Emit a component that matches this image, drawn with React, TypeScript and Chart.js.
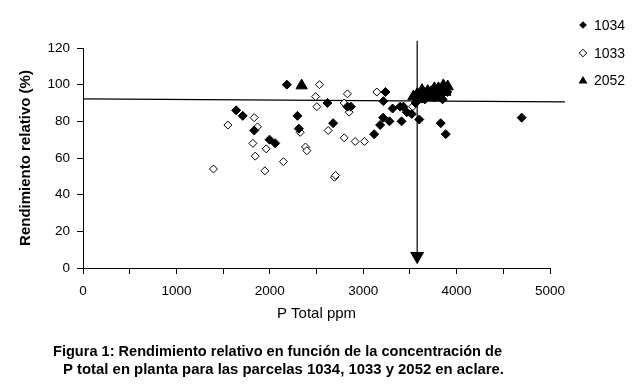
import React, { useEffect, useRef } from "react";
import { Chart, registerables } from "chart.js";

Chart.register(...registerables);

// ---- data ----
const p1034X = [1640, 1710, 1833, 1997, 2058, 2183, 2296, 2311, 2617, 2678, 2831, 2868, 3117, 3181, 3213, 3281, 3216, 3238, 3315, 3395, 3430, 3411, 3467, 3520, 3600, 3830, 3884, 4697, 3560, 3590, 3620, 3660, 3700, 3730, 3760, 3800, 3840, 3870, 3900, 3850];
const p1034Y = [86, 83, 75, 70, 68, 100, 83, 76, 90, 79, 88, 88, 73, 78, 82, 80, 91, 96, 87, 88, 88, 80, 85, 84, 81, 79, 73, 82, 90, 92, 94, 92, 95, 97, 93, 96, 95, 97, 96, 92];

const p1033X = [1397, 1551, 1819, 1833, 1868, 1844, 1947, 1961, 2146, 2325, 2382, 2397, 2491, 2504, 2532, 2625, 2692, 2705, 2796, 2831, 2849, 2796, 2914, 3013, 3146, 3530];
const p1033Y = [54, 78, 68, 82, 77, 61, 53, 65, 58, 74, 66, 64, 93.5, 88, 100, 75, 49.5, 50.5, 90, 95, 85, 71, 69, 69, 96, 88];

const p2052X = [2341, 3537, 3580, 3610, 3630, 3660, 3691, 3720, 3762, 3790, 3805, 3830, 3858, 3880, 3905];
const p2052Y = [99.5, 93.5, 95, 92, 97, 95, 96.5, 93, 98, 95, 98, 93, 99.6, 96, 99];

// reference lines drawn on the figure
const hLineX = [0, 5160];
const hLineY = [92.3, 90.6];
const vLineX = [3578, 3578];
const vLineY = [124, 6.5];

const xTickMarks = [0, 500, 1000, 1500, 2000, 2500, 3000, 3500, 4000, 4500, 5000];
const xTickLabels = [0, 1000, 2000, 3000, 4000, 5000];
const yTickLabels = [0, 20, 40, 60, 80, 100, 120];

const seriesNames = ["1034", "1033", "2052"];
const xTitle = "P Total ppm";
const yTitle = "Rendimiento relativo (%)";
const captionLines = [
  "Figura 1: Rendimiento relativo en función de la concentración de",
  "P total en planta para las parcelas 1034, 1033 y 2052 en aclare.",
];

const FONT = '"Liberation Sans", Arial, sans-serif';

const zip = (xs: number[], ys: number[]) => xs.map((x, i) => ({ x, y: ys[i] }));

const extrasPlugin = {
  id: "extras",
  afterDraw(chart: any) {
    const ctx = chart.ctx as CanvasRenderingContext2D;
    ctx.save();
    // legend
    const legendY = [25, 53, 80];
    const mx = 583;
    ctx.fillStyle = "#000";
    ctx.strokeStyle = "#000";
    ctx.lineWidth = 1;
    seriesNames.forEach((name, i) => {
      const y = legendY[i];
      ctx.beginPath();
      if (i === 2) {
        ctx.moveTo(mx, y - 4);
        ctx.lineTo(mx + 4.5, y + 3.5);
        ctx.lineTo(mx - 4.5, y + 3.5);
        ctx.closePath();
        ctx.fill();
      } else {
        const r = 3.8;
        ctx.moveTo(mx - r, y);
        ctx.lineTo(mx, y - r);
        ctx.lineTo(mx + r, y);
        ctx.lineTo(mx, y + r);
        ctx.closePath();
        if (i === 0) ctx.fill();
        else {
          ctx.fillStyle = "#fff";
          ctx.fill();
          ctx.fillStyle = "#000";
          ctx.stroke();
        }
      }
      ctx.font = `14px ${FONT}`;
      ctx.textAlign = "left";
      ctx.textBaseline = "middle";
      ctx.fillText(name, 594, y + 1);
    });
    // caption
    ctx.font = `bold 15px ${FONT}`;
    ctx.textBaseline = "alphabetic";
    ctx.textAlign = "left";
    ctx.fillText(captionLines[0], 53, 356, 449);
    ctx.fillText(captionLines[1], 63, 374, 441);
    ctx.restore();
  },
};

export default function App() {
  const ref = useRef<HTMLCanvasElement | null>(null);
  useEffect(() => {
    const canvas = ref.current;
    if (!canvas) return;
    const chart = new Chart(canvas, {
      type: "scatter",
      data: {
        datasets: [
          {
            label: seriesNames[0],
            data: zip(p1034X, p1034Y),
            pointStyle: "rectRot",
            pointRadius: 4.5,
            backgroundColor: "#000",
            borderColor: "#000",
            borderWidth: 1,
          },
          {
            label: seriesNames[1],
            data: zip(p1033X, p1033Y),
            pointStyle: "rectRot",
            pointRadius: 4,
            backgroundColor: "#fff",
            borderColor: "#000",
            borderWidth: 1,
          },
          {
            label: seriesNames[2],
            data: zip(p2052X, p2052Y),
            pointStyle: "triangle",
            pointRadius: 6.5,
            backgroundColor: "#000",
            borderColor: "#000",
            borderWidth: 1,
          },
          {
            label: "h",
            data: zip(hLineX, hLineY),
            showLine: true,
            borderColor: "#000",
            borderWidth: 1.2,
            pointRadius: 0,
            clip: false,
          } as any,
          {
            label: "v",
            data: zip(vLineX, vLineY),
            showLine: true,
            borderColor: "#000",
            borderWidth: 1.2,
            pointRadius: [0, 7],
            pointStyle: "triangle",
            pointRotation: 180,
            pointBackgroundColor: "#000",
            pointBorderColor: "#000",
            clip: false,
          } as any,
        ],
      },
      options: {
        responsive: false,
        animation: false,
        devicePixelRatio: 1,
        layout: { padding: { left: 0, top: 48, right: 90, bottom: 60 } },
        plugins: {
          legend: { display: false },
          tooltip: { enabled: false },
        },
        scales: {
          x: {
            type: "linear",
            min: 0,
            max: 5000,
            afterBuildTicks: (s: any) => {
              s.ticks = xTickMarks.map((v) => ({ value: v }));
            },
            ticks: {
              autoSkip: false,
              maxRotation: 0,
              padding: 9,
              color: "#000",
              font: { family: FONT, size: 13.5 },
              callback: (v: any) => (xTickLabels.includes(Number(v)) ? String(v) : ""),
            },
            grid: { drawOnChartArea: false, drawTicks: true, tickLength: 6, color: "#000" },
            border: { color: "#000", width: 1 },
            title: {
              display: true,
              text: xTitle,
              color: "#000",
              font: { family: FONT, size: 15 },
              padding: { top: 0, bottom: 3 },
            },
            afterFit: (s: any) => {
              s.height = 58;
            },
          },
          y: {
            min: 0,
            max: 120,
            afterBuildTicks: (s: any) => {
              s.ticks = yTickLabels.map((v) => ({ value: v }));
            },
            ticks: {
              padding: 7,
              color: "#000",
              font: { family: FONT, size: 13.5 },
            },
            grid: { drawOnChartArea: false, drawTicks: true, tickLength: 6, color: "#000" },
            border: { color: "#000", width: 1 },
            title: {
              display: true,
              text: yTitle,
              color: "#000",
              font: { family: FONT, size: 15, weight: "bold" },
              padding: { top: 17, bottom: 0 },
            },
            afterFit: (s: any) => {
              s.width = 83;
            },
          },
        },
      },
      plugins: [extrasPlugin],
    } as any);
    return () => chart.destroy();
  }, []);
  return (
    <div style={{ position: "fixed", left: 0, top: 0, width: 640, height: 386, background: "#fff" }}>
      <canvas ref={ref} width={640} height={386} style={{ display: "block" }} />
    </div>
  );
}
